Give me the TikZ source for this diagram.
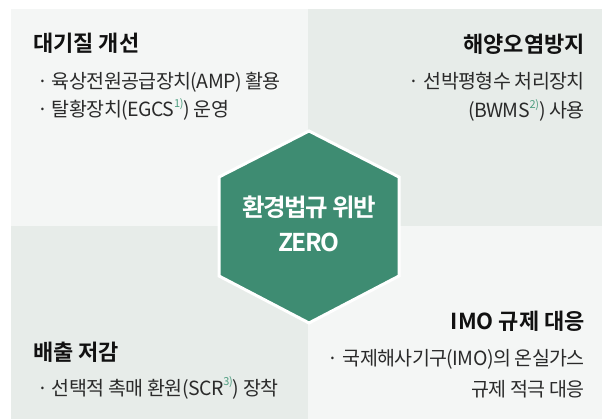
\documentclass[tikz,border=0pt]{standalone}
\usepackage{fontspec}
\setmainfont{Noto Sans CJK KR}[BoldFont={Noto Sans CJK KR Bold}]
\newfontfamily\headfont{Noto Sans CJK KR Bold}
\newfontfamily\hexfont{Noto Sans CJK KR Bold}[LetterSpace=-6]
\newfontfamily\itemfont{Noto Sans CJK KR}[LetterSpace=-3]

\definecolor{quadlight}{HTML}{F4F6F5}
\definecolor{quadgreen}{HTML}{E7ECE9}
\definecolor{hexgreen}{HTML}{3E8C72}
\definecolor{notegreen}{HTML}{4E9E80}
\definecolor{titleblack}{HTML}{111111}
\definecolor{itemgray}{HTML}{2A2A2A}

% footnote mark after an abbreviation
\newcommand{\fnmark}[1]{\raisebox{0.48em}{\fontsize{11}{11}\selectfont\textcolor{notegreen}{#1}}}

\begin{document}
\begin{tikzpicture}[x=1pt, y=-1pt,
    quadtitle/.style={font=\headfont\fontsize{22}{26}\selectfont, text=titleblack, inner sep=0pt},
    quaditem/.style={font=\itemfont\fontsize{19.5}{23}\selectfont, text=itemgray, inner sep=0pt}]

    \useasboundingbox (0,0) rectangle (602,419);

    % Quadrants
    \fill[quadlight] (11,9) rectangle (308,226);
    \fill[quadgreen] (308,9) rectangle (602,226);
    \fill[quadgreen] (11,226) rectangle (308,419);
    \fill[quadlight] (308,226) rectangle (602,419);

    % Quadrant top-left
    \node[quadtitle, anchor=base west] (airTitle) at (33,52) {대기질 개선};
    \node[quaditem, anchor=base west] (airAmp) at (37,89) {· 육상전원공급장치(AMP) 활용};
    \node[quaditem, anchor=base west] (airEgcs) at (37,117) {· 탈황장치(EGCS\fnmark{1)}) 운영};

    % Quadrant top-right
    \node[quadtitle, anchor=base east] (seaTitle) at (585,53) {해양오염방지};
    \node[quaditem, anchor=base east] (seaBwms) at (585,89) {· 선박평형수 처리장치};
    \node[quaditem, anchor=base east] (seaBwmsUse) at (585,118) {(BWMS\fnmark{2)}) 사용};

    % Quadrant bottom-left
    \node[quadtitle, anchor=base west] (emTitle) at (33,360) {배출 저감};
    \node[quaditem, anchor=base west] (emScr) at (37,395) {· 선택적 촉매 환원(SCR\fnmark{3)}) 장착};

    % Quadrant bottom-right
    \node[quadtitle, anchor=base east] (imoTitle) at (585,330) {IMO 규제 대응};
    \node[quaditem, anchor=base east] (imoGhg) at (585,366) {· 국제해사기구(IMO)의 온실가스};
    \node[quaditem, anchor=base east] (imoGhgAct) at (585,396) {규제 적극 대응};

    % Hexagon in the middle
    \filldraw[fill=hexgreen, draw=white, line width=3pt]
        (309,131) -- (399,177) -- (399,276) -- (309,323) -- (219,276) -- (219,177) -- cycle;
    \node[align=center, text=white, font=\hexfont\fontsize{24.5}{35}\selectfont, inner sep=0pt]
        (goal) at (309,224) {환경법규 위반\\ZERO};

\end{tikzpicture}
\end{document}
